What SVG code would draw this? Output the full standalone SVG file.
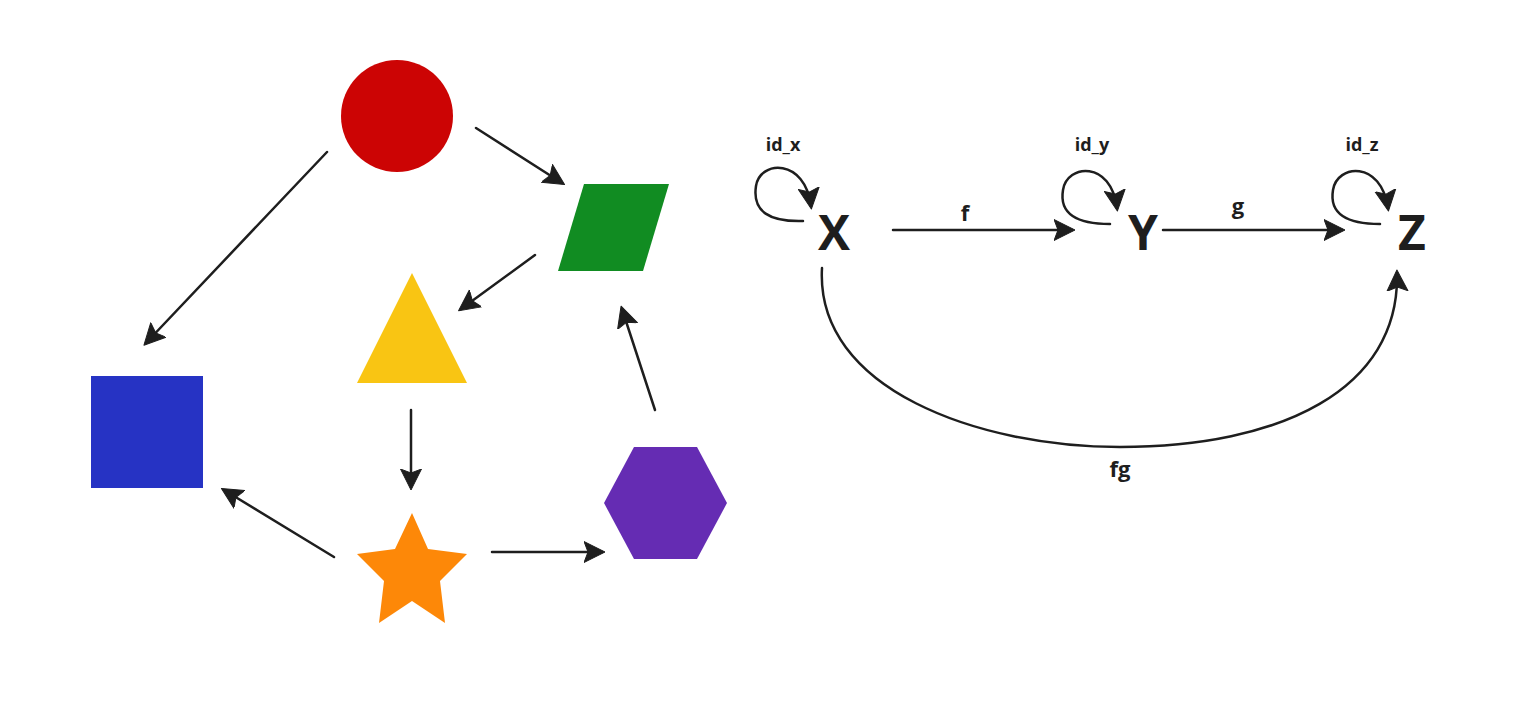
<svg xmlns="http://www.w3.org/2000/svg" width="1517" height="701" viewBox="0 0 1517 701">
<style>
.edge{fill:none;stroke:#1e1e1e;stroke-width:2.5;stroke-linecap:round;marker-end:url(#ah)}
.obj{font-family:"Open Sans","Noto Sans","Liberation Sans",sans-serif;font-weight:700;font-size:48px;fill:#1e1e1e;text-anchor:middle}
.lbl{font-family:"Open Sans","Noto Sans","Liberation Sans",sans-serif;font-weight:700;font-size:18px;fill:#1e1e1e;text-anchor:middle}
.lbl2{font-family:"Open Sans","Noto Sans","Liberation Sans",sans-serif;font-weight:700;font-size:22px;fill:#1e1e1e;text-anchor:middle}
</style>
<defs>
<marker id="ah" markerUnits="userSpaceOnUse" markerWidth="22" markerHeight="24" viewBox="0 0 22 24" refX="18" refY="12" orient="auto">
<path d="M0,1.5 L21,12 L0,22.5 L4,12 z" fill="#1e1e1e" stroke="#1e1e1e" stroke-width="1" stroke-linejoin="round"/>
</marker>
</defs>
<rect width="1517" height="701" fill="#ffffff"/>
<g id="circle"><circle cx="397" cy="116" r="56" fill="#cc0404"/></g>
<g id="parallelogram"><polygon points="584,184 669,184 643,271 558,271" fill="#118c22"/></g>
<g id="triangle"><polygon points="412,273 467,383 357,383" fill="#f9c513"/></g>
<g id="square"><rect x="91" y="376" width="112" height="112" fill="#2633c4"/></g>
<g id="hexagon"><polygon points="634,447 697,447 727,503 697,559 634,559 604,503" fill="#652cb3"/></g>
<g id="star"><polygon points="412,513 428,549 467,554 440,581 445,623 412,601 379,623 384,581 357,554 395,549" fill="#fd8808"/></g>
<g id="node-X"><text class="obj" x="834" y="250">X</text></g>
<g id="node-Y"><text class="obj" x="1143" y="250">Y</text></g>
<g id="node-Z"><text class="obj" x="1412" y="250">Z</text></g>
<g id="connectors">
<line class="edge" x1="327" y1="152" x2="146" y2="343"/>
<line class="edge" x1="476" y1="128" x2="562" y2="183"/>
<line class="edge" x1="535" y1="255" x2="461" y2="309"/>
<line class="edge" x1="411" y1="410" x2="411" y2="487"/>
<line class="edge" x1="334" y1="557" x2="224" y2="490"/>
<line class="edge" x1="492" y1="552" x2="602" y2="552"/>
<line class="edge" x1="655" y1="410" x2="622" y2="309"/>
<line class="edge" x1="893" y1="230" x2="1072" y2="230"/>
<line class="edge" x1="1163" y1="230" x2="1342" y2="230"/>
<path class="edge" d="M803,221 C770,222 752,212 756,186 C760,160 805,158 811,206"/>
<path class="edge" d="M1110,224 C1077,224 1059,214 1063,190 C1067,164 1111,160 1117,208"/>
<path class="edge" d="M1380,224 C1347,224 1329,214 1333,190 C1337,164 1381,160 1388,208"/>
<path class="edge" d="M822,268 C815,390 980,447 1120,447 C1280,447 1400,390 1397,273"/>
</g>
<g id="labels">
<text class="lbl" x="783" y="151">id_x</text>
<text class="lbl" x="1092" y="151">id_y</text>
<text class="lbl" x="1362" y="151">id_z</text>
<text class="lbl2" x="965" y="221">f</text>
<text class="lbl2" x="1238" y="214">g</text>
<text class="lbl2" x="1120" y="477">fg</text>
</g>
</svg>
